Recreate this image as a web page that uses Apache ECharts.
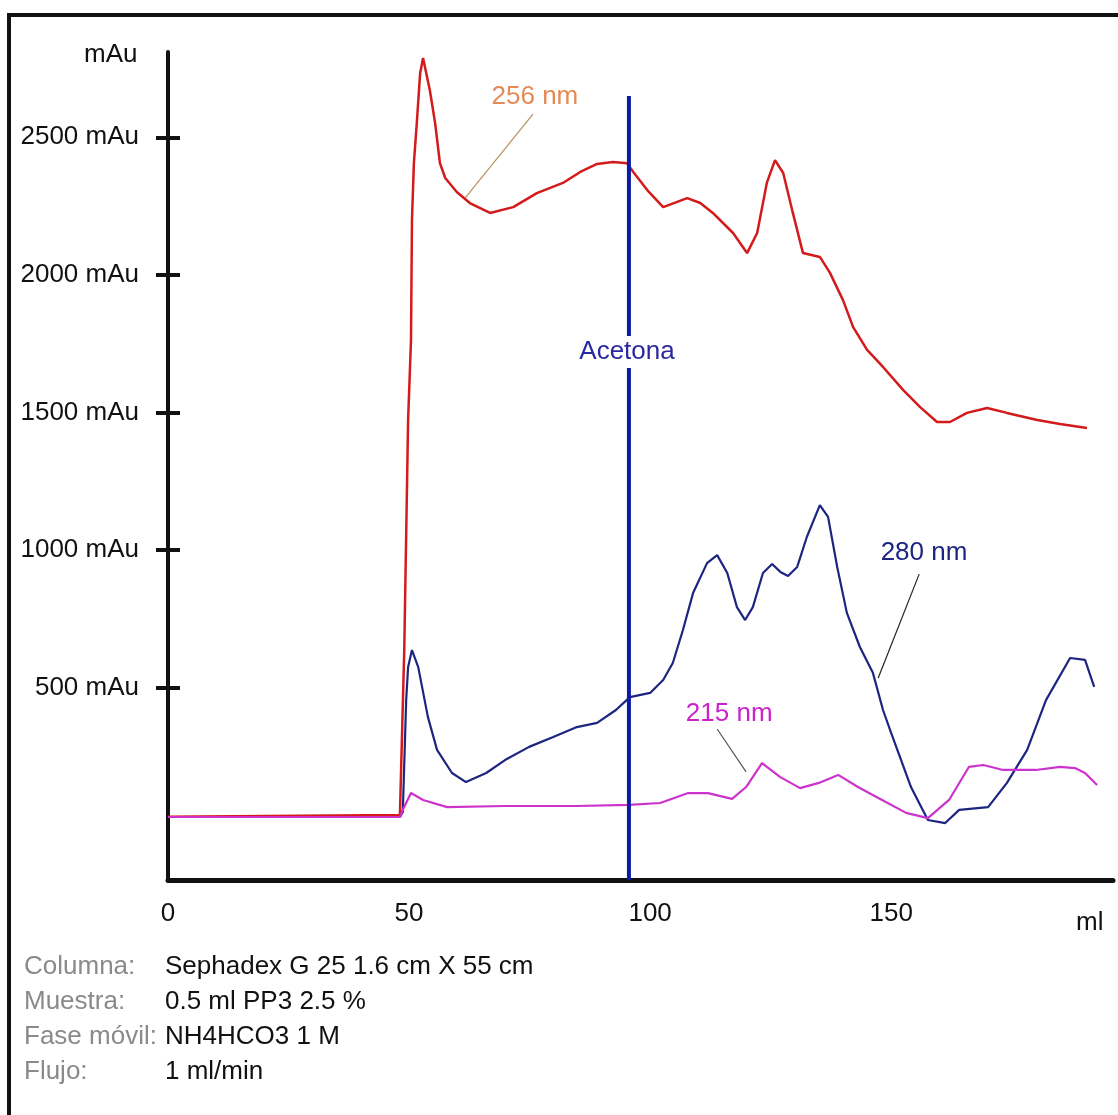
<!DOCTYPE html>
<html>
<head>
<meta charset="utf-8">
<script src="https://cdn.jsdelivr.net/npm/echarts@6/dist/echarts.min.js"></script>
<style>
  html, body { margin: 0; padding: 0; background: #fff; }
  #chart { width: 1118px; height: 1115px; }
</style>
</head>
<body>
<div id="chart"></div>
<script>
// ml, mAu
const abs256 = [
  [0, 30], [48.1, 36], [49.0, 636], [49.8, 1472], [50.4, 1763], [50.6, 2199],
  [51.0, 2406], [51.6, 2552], [52.3, 2734], [52.9, 2788], [54.3, 2672],
  [55.4, 2552], [56.4, 2406], [57.5, 2352], [59.9, 2301], [62.6, 2261],
  [66.8, 2225], [71.6, 2246], [76.5, 2297], [81.9, 2334], [85.5, 2374],
  [89.0, 2403], [92.3, 2410], [95.2, 2406], [96.5, 2374], [99.4, 2308],
  [102.7, 2246], [107.7, 2279], [110.4, 2261], [113.0, 2225], [117.2, 2152],
  [120.1, 2079], [122.2, 2152], [124.2, 2334], [125.9, 2417], [127.6, 2370],
  [129.6, 2225], [131.7, 2079], [135.2, 2065], [137.3, 2007], [140.0, 1908],
  [142.1, 1810], [145.0, 1727], [148.3, 1665], [152.5, 1581], [156.0, 1519],
  [159.5, 1465], [162.2, 1465], [165.7, 1498], [169.9, 1516], [174.0, 1498],
  [180.3, 1472], [185.0, 1458], [190.6, 1443]
];

const abs280 = [
  [0, 29], [48.1, 29], [48.7, 47], [49.4, 454], [49.8, 574], [50.6, 636],
  [51.9, 574], [53.9, 393], [55.8, 273], [58.9, 189], [61.8, 156], [66.0, 189],
  [69.9, 236], [74.9, 284], [79.9, 320], [84.8, 356], [89.0, 371], [92.9, 418],
  [95.8, 465], [100.0, 480], [102.7, 527], [104.7, 589], [106.8, 709],
  [108.9, 843], [111.8, 952], [113.9, 981], [116.0, 916], [118.0, 792],
  [119.7, 745], [121.3, 792], [123.4, 916], [125.3, 949], [127.0, 920],
  [128.6, 905], [130.5, 938], [132.5, 1047], [135.2, 1163], [136.9, 1120],
  [138.8, 938], [140.8, 771], [143.5, 647], [146.2, 553], [148.3, 418],
  [150.0, 334], [154.1, 138], [157.6, 18], [161.2, 7], [164.1, 55],
  [170.1, 65], [174.0, 153], [178.2, 273], [182.1, 454], [187.1, 607],
  [190.2, 600], [192.1, 502]
];

const abs215 = [
  [0, 29], [48.1, 29], [48.7, 55], [50.4, 116], [52.9, 91], [57.9, 65],
  [69.9, 69], [84.8, 69], [95.6, 73], [102.1, 80], [107.9, 116], [112.0, 116],
  [117.0, 95], [119.9, 138], [123.2, 225], [127.0, 174], [131.1, 134],
  [135.0, 153], [139.0, 182], [143.1, 138], [148.1, 91], [153.1, 44],
  [157.6, 25], [162.0, 91], [166.1, 211], [169.1, 218], [173.2, 200],
  [180.0, 200], [185.0, 211], [188.1, 207], [190.2, 189], [192.7, 145]
];

const acetona = [[95.6, -200], [95.6, 2650]];

const xTicks = [0, 50, 100, 150];
const yTicks = [500, 1000, 1500, 2000, 2500];

const infoLabels = ['Columna:', 'Muestra:', 'Fase móvil:', 'Flujo:'];
const infoValues = ['Sephadex G 25 1.6 cm X 55 cm', '0.5 ml PP3 2.5 %', 'NH4HCO3 1 M', '1 ml/min'];

const font = 'Liberation Sans, Arial, sans-serif';

const myChart = echarts.init(document.getElementById('chart'));

function tag(text, coord, color, bg) {
  return {
    symbol: 'circle',
    symbolSize: 0,
    data: [{ coord: coord, value: text }],
    label: {
      show: true,
      position: 'inside',
      formatter: text,
      color: color,
      fontSize: 26,
      fontFamily: font,
      backgroundColor: bg || 'transparent',
      padding: bg ? [3, 2] : 0,
    },
  };
}

function leader(from, to, color) {
  return {
    silent: true,
    symbol: ['none', 'none'],
    label: { show: false },
    lineStyle: { color: color, width: 1.2, type: 'solid' },
    data: [[{ coord: from }, { coord: to }]],
  };
}

const graphics = [
  {
    type: 'rect',
    shape: { x: 9, y: 15, width: 1200, height: 1200 },
    style: { fill: 'none', stroke: '#111', lineWidth: 4 },
    silent: true,
  },
  {
    type: 'text',
    left: 84,
    top: 42,
    style: { text: 'mAu', fontSize: 26, fontFamily: font, fill: '#111' },
  },
  {
    type: 'text',
    left: 1076,
    top: 910,
    style: { text: 'ml', fontSize: 26, fontFamily: font, fill: '#111' },
  },
];

infoLabels.forEach((name, i) => {
  graphics.push({
    type: 'text',
    left: 24,
    top: 954 + i * 35,
    style: { text: name, fontSize: 26, fontFamily: font, fill: '#8a8a8a' },
  });
  graphics.push({
    type: 'text',
    left: 165,
    top: 954 + i * 35,
    style: { text: infoValues[i], fontSize: 26, fontFamily: font, fill: '#111' },
  });
});

const option = {
  animation: false,
  backgroundColor: '#fff',
  textStyle: { fontFamily: font },
  grid: { left: 168, top: 52, right: 5, bottom: 235, outerBoundsMode: 'none', containLabel: false },
  xAxis: {
    type: 'value',
    min: 0,
    max: 196,
    axisLine: { show: true, onZero: false, lineStyle: { color: '#111', width: 5 } },
    axisTick: { show: false },
    splitLine: { show: false },
    axisLabel: { customValues: xTicks, fontSize: 26, color: '#111', margin: 21 },
  },
  yAxis: [
    {
      type: 'value',
      min: -200,
      max: 2810,
      axisLine: { show: true, onZero: false, lineStyle: { color: '#111', width: 4 } },
      axisTick: {
        show: true,
        length: 12,
        customValues: yTicks,
        lineStyle: { color: '#111', width: 4 },
      },
      splitLine: { show: false },
      axisLabel: {
        customValues: yTicks,
        fontSize: 26,
        color: '#111',
        margin: 29,
        formatter: (v) => v + ' mAu',
      },
    },
    {
      type: 'value',
      min: -200,
      max: 2810,
      position: 'left',
      axisLine: { show: false },
      axisTick: {
        show: true,
        inside: true,
        length: 12,
        customValues: yTicks,
        lineStyle: { color: '#111', width: 4 },
      },
      axisLabel: { show: false },
      splitLine: { show: false },
    },
  ],
  series: [
    {
      name: '256 nm',
      type: 'line',
      data: abs256,
      showSymbol: false,
      lineStyle: { color: '#d41a1a', width: 2.5 },
      markPoint: tag('256 nm', [76.1, 2646], '#e38a55'),
      markLine: leader([75.7, 2584], [61.6, 2279], '#b89060'),
    },
    {
      name: '280 nm',
      type: 'line',
      data: abs280,
      showSymbol: false,
      lineStyle: { color: '#1c2580', width: 2.2 },
      markPoint: tag('280 nm', [156.8, 989], '#1c2580'),
      markLine: leader([155.8, 912], [147.3, 534], '#222'),
    },
    {
      name: '215 nm',
      type: 'line',
      data: abs215,
      showSymbol: false,
      lineStyle: { color: '#cc33cc', width: 2.2 },
      markPoint: tag('215 nm', [116.4, 403], '#cc22cc'),
      markLine: leader([113.9, 349], [119.9, 193], '#555'),
    },
    {
      name: 'Acetona',
      type: 'line',
      data: acetona,
      showSymbol: false,
      z: 3,
      lineStyle: { color: '#0c1aa6', width: 4 },
      markPoint: tag('Acetona', [95.2, 1719], '#2a2aa0', '#fff'),
    },
  ],
  graphic: graphics,
};

myChart.setOption(option);
</script>
</body>
</html>
